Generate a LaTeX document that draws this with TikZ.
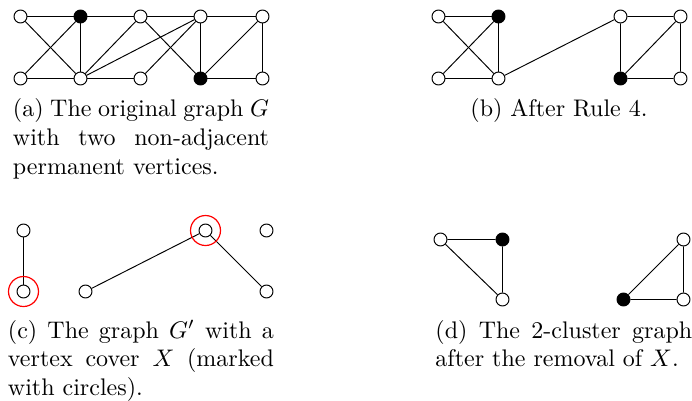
\documentclass[tikz,border=0pt]{standalone}
\usepackage{amsmath, amssymb}
\usepackage{tikz}

\begin{document}
\begin{tikzpicture}[x=0.4167pt, y=-0.4167pt,
    vtx/.style={circle, draw, fill=white, inner sep=0pt, minimum size=5.4pt},
    perm/.style={vtx, fill=black},
    cover/.style={red, line width=0.5pt},
    capt/.style={anchor=base west, inner sep=0pt, align=justify}]
  \useasboundingbox (0,0) rectangle (692,400);

  % (a) The original graph G
  \node[vtx]  (a1) at (20.5, 16.5) {};
  \node[perm] (a2) at (80.5, 16.5) {};
  \node[vtx]  (a3) at (140.5, 16.5) {};
  \node[vtx]  (a4) at (200.5, 16.5) {};
  \node[vtx]  (a5) at (262.5, 16.5) {};
  \node[vtx]  (a6) at (20.5, 78.5) {};
  \node[vtx]  (a7) at (80.5, 78.5) {};
  \node[vtx]  (a8) at (140.5, 78.5) {};
  \node[perm] (a9) at (200.5, 78.5) {};
  \node[vtx]  (a10) at (262.5, 78.5) {};
  \draw (a1) -- (a2) -- (a3) -- (a4) -- (a5);
  \draw (a6) -- (a7) -- (a8);
  \draw (a9) -- (a10);
  \draw (a1) -- (a7);
  \draw (a2) -- (a6);
  \draw (a2) -- (a7);
  \draw (a7) -- (a3);
  \draw (a7) -- (a4);
  \draw (a3) -- (a9);
  \draw (a8) -- (a4);
  \draw (a4) -- (a9);
  \draw (a9) -- (a5);
  \draw (a5) -- (a10);
  \node[capt, text width=106.7pt] (capa) at (12.5, 116.5)
    {(a) The original graph $G$\linebreak with two non-adjacent\linebreak permanent vertices.};

  % (b) After Rule 4
  \node[vtx]  (b1) at (438.5, 16.5) {};
  \node[perm] (b2) at (498.5, 16.5) {};
  \node[vtx]  (b3) at (620.5, 16.5) {};
  \node[vtx]  (b4) at (680.5, 16.5) {};
  \node[vtx]  (b5) at (438.5, 78.5) {};
  \node[vtx]  (b6) at (498.5, 78.5) {};
  \node[perm] (b7) at (620.5, 78.5) {};
  \node[vtx]  (b8) at (680.5, 78.5) {};
  \draw (b1) -- (b2) -- (b6) -- (b5);
  \draw (b1) -- (b6);
  \draw (b2) -- (b5);
  \draw (b6) -- (b3) -- (b4) -- (b8) -- (b7) -- (b3);
  \draw (b7) -- (b4);
  \node[anchor=base, inner sep=0pt] (capb) at (559, 116.5) {(b) After Rule 4.};

  % (c) G' with vertex cover X
  \node[vtx] (c1) at (23.5, 230.5) {};
  \node[vtx] (c2) at (23.5, 291.5) {};
  \node[vtx] (c3) at (85.5, 291.5) {};
  \node[vtx] (c4) at (205.5, 230.5) {};
  \node[vtx] (c5) at (266.5, 230.5) {};
  \node[vtx] (c6) at (266.5, 291.5) {};
  \draw (c1) -- (c2);
  \draw (c3) -- (c4) -- (c6);
  \draw[cover] (c2) circle (6.25pt);
  \draw[cover] (c4) circle (6.25pt);
  \node[capt, text width=110.8pt] (capc) at (7.5, 338)
    {(c) The graph $G'$ with a\linebreak vertex cover $X$ (marked\linebreak with circles).};

  % (d) The 2-cluster graph
  \node[vtx]  (d1) at (440.5, 239.5) {};
  \node[perm] (d2) at (502.5, 239.5) {};
  \node[vtx]  (d3) at (502.5, 299.5) {};
  \node[perm] (d4) at (623.5, 299.5) {};
  \node[vtx]  (d5) at (683.5, 239.5) {};
  \node[vtx]  (d6) at (683.5, 299.5) {};
  \draw (d1) -- (d2) -- (d3) -- (d1);
  \draw (d4) -- (d5) -- (d6) -- (d4);
  \node[capt, text width=107pt] (capd) at (435, 338)
    {(d) The 2-cluster graph\linebreak after the removal of $X$.};

\end{tikzpicture}
\end{document}
